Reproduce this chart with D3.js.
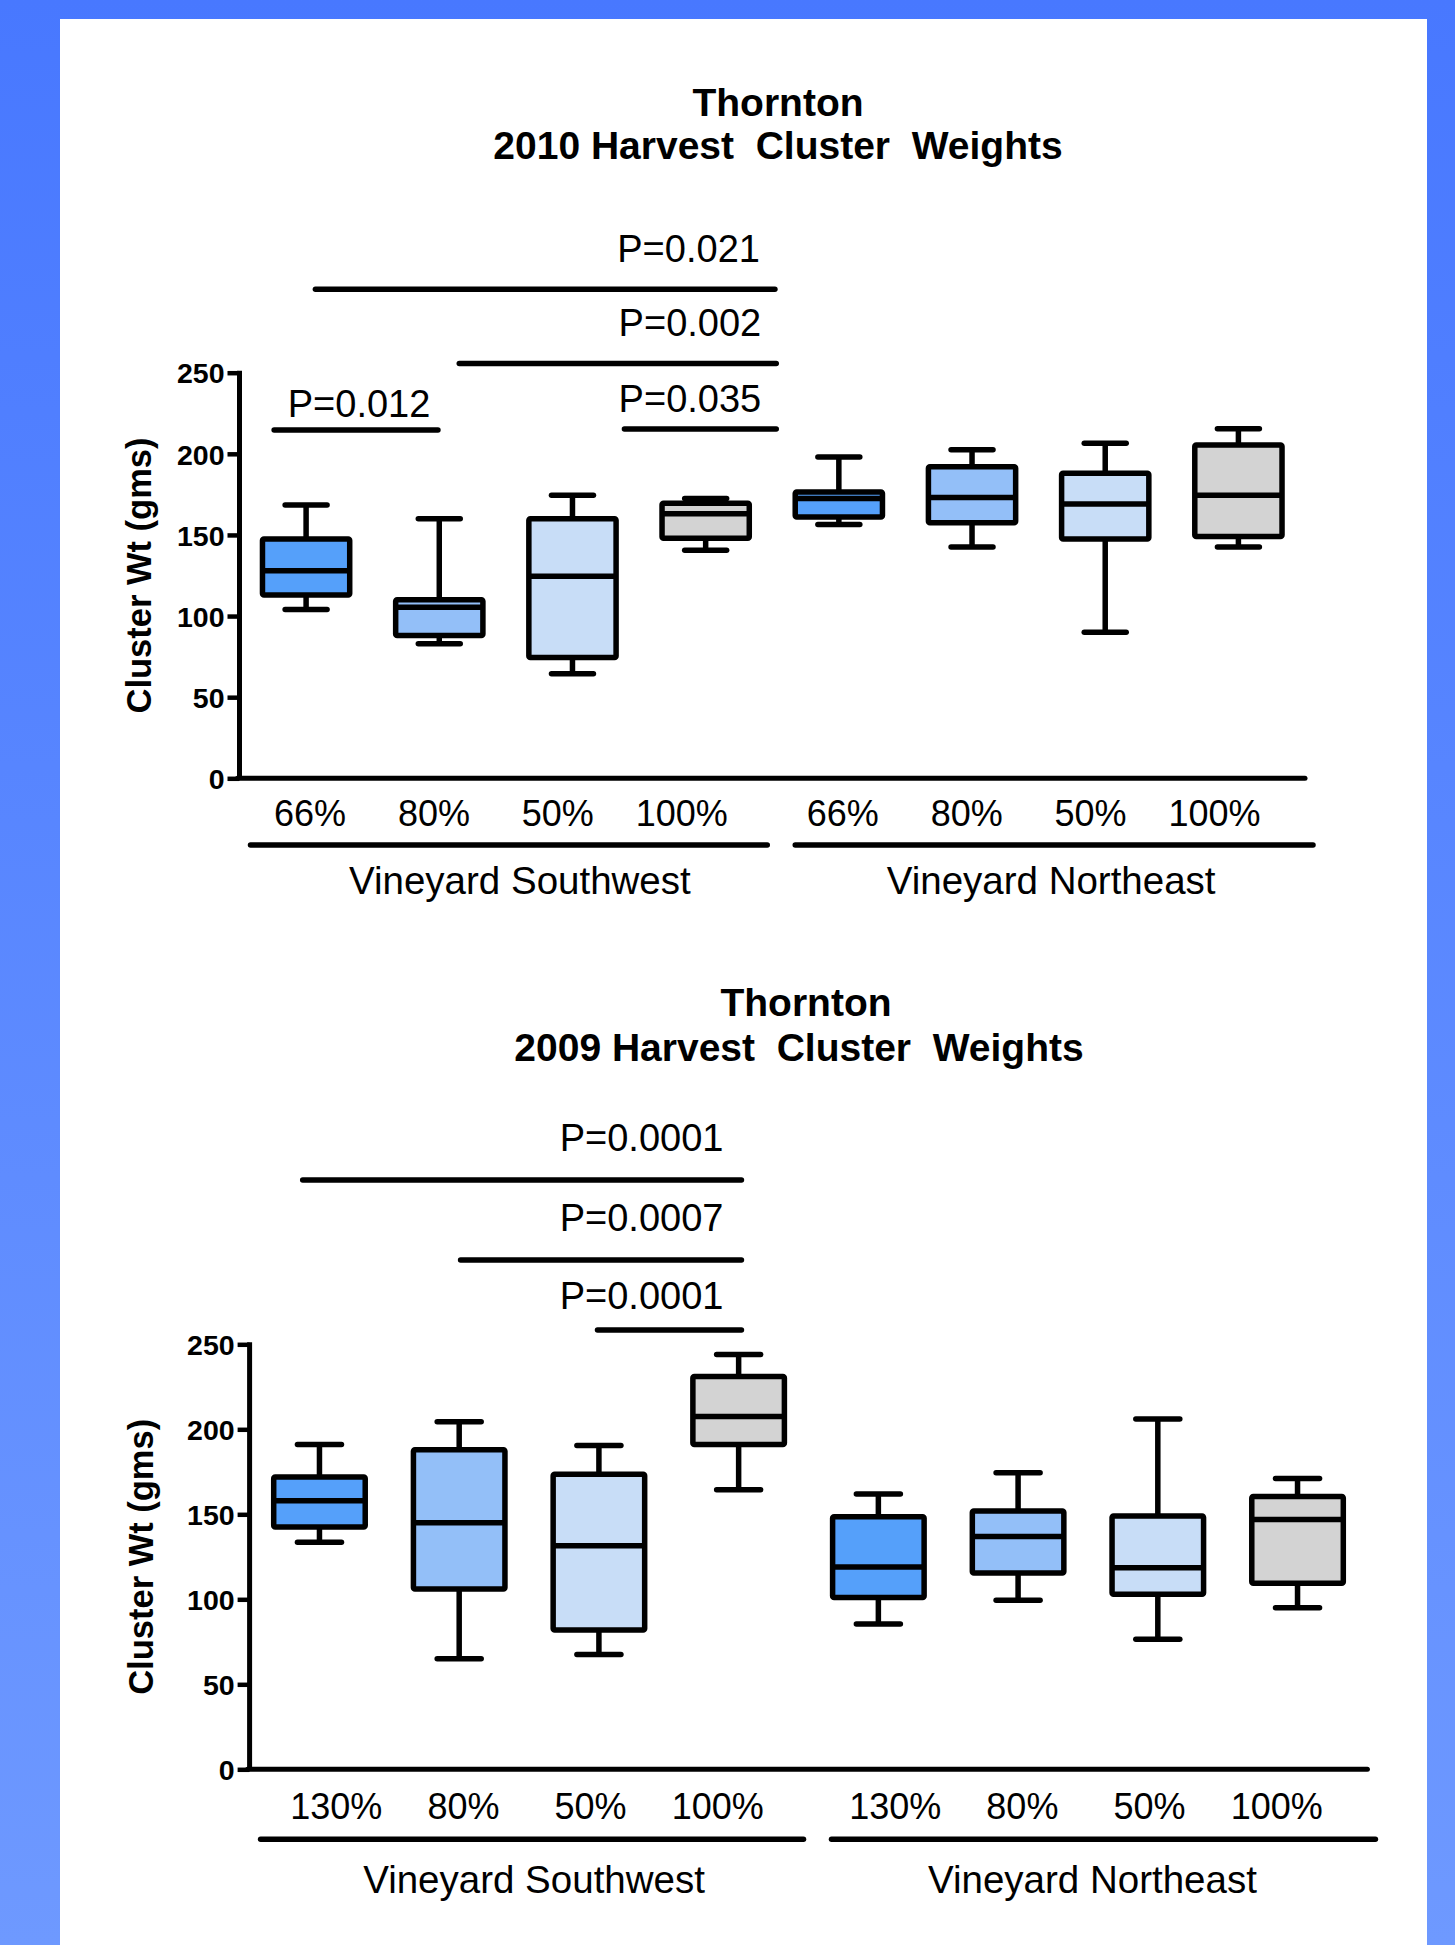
<!DOCTYPE html>
<html>
<head>
<meta charset="utf-8">
<script src="https://cdn.jsdelivr.net/npm/d3@7"></script>
<style>
  html, body { margin: 0; padding: 0; background: #5a88ff; }
  svg { display: block; }
  text { font-family: "Liberation Sans", Arial, "DejaVu Sans", sans-serif; fill: #000; }
</style>
</head>
<body>
<svg id="chart" width="1455" height="1945"></svg>
<script>
// ---------------- DATA ----------------
const vineyards = ["Vineyard Southwest", "Vineyard Northeast"];
const treatments2010 = ["66%", "80%", "50%", "100%"];
const treatments2009 = ["130%", "80%", "50%", "100%"];
const yTicks = [0, 50, 100, 150, 200, 250];

// box stats: [min, q1, median, q3, max] (grams), order: SW x4 then NE x4
const stats2010 = [
  [104, 113, 128, 147.5, 168.5],
  [83, 88, 105.5, 110, 160],
  [64.5, 74.5, 124.5, 160, 174.5],
  [140.5, 148, 163, 169.5, 172.5],
  [156.5, 161, 172.5, 176.5, 198],
  [142.5, 157.5, 173, 192, 202.5],
  [90, 147.5, 169, 188, 206.5],
  [142.5, 149, 174.5, 205.5, 215.5]
];
const stats2009 = [
  [133.5, 142.5, 158, 172, 191],
  [65, 106, 145, 188, 204.5],
  [67.5, 82, 131.5, 173.5, 190.5],
  [164.5, 191, 207.5, 231, 244],
  [85.5, 101, 119, 148.5, 162],
  [99.5, 115.5, 137, 152, 174.5],
  [76.5, 103, 118.5, 149, 206],
  [95, 109.5, 147, 160.5, 171]
];
const fills = ["#55a0fa", "#93bff8", "#c8ddf7", "#d3d3d3"];

// significance bars: span in category-index units, y in gram units
const comps2010 = [
  { label: "P=0.021", from: 0.07, to: 3.52, y: 301.5, ty: 318.5, anchor: "end" },
  { label: "P=0.002", from: 1.15, to: 3.53, y: 255.7, ty: 272.6, anchor: "end" },
  { label: "P=0.035", from: 2.39, to: 3.53, y: 215.3, ty: 226, anchor: "end" },
  { label: "P=0.012", from: -0.24, to: 0.99, y: 214.7, ty: 223, anchor: "middle" }
];
const comps2009 = [
  { label: "P=0.0001", from: -0.12, to: 3.02, y: 346.6, ty: 363.7, anchor: "end" },
  { label: "P=0.0007", from: 1.01, to: 3.02, y: 299.6, ty: 316.9, anchor: "end" },
  { label: "P=0.0001", from: 1.99, to: 3.02, y: 258.4, ty: 270.5, anchor: "end" }
];

// ---------------- DRAW ----------------
const svg = d3.select("#chart");
const defs = svg.append("defs");
const grad = defs.append("linearGradient").attr("id", "bg").attr("x1", 0).attr("y1", 0).attr("x2", 0).attr("y2", 1);
grad.append("stop").attr("offset", "0%").attr("stop-color", "#4878ff");
grad.append("stop").attr("offset", "100%").attr("stop-color", "#6e99ff");
svg.append("rect").attr("width", 1455).attr("height", 1945).attr("fill", "url(#bg)");
svg.append("rect").attr("x", 60).attr("y", 19).attr("width", 1367).attr("height", 1945 - 19).attr("fill", "#fff");

const SW = 5.5; // stroke width

function drawChart(cfg) {
  const g = svg.append("g");
  const keys = [];
  vineyards.forEach(v => cfg.treatments.forEach(t => keys.push(v + "|" + t)));

  const x = d3.scaleBand().domain(keys).range([cfg.x0, cfg.x1]).padding(0);
  const idx = d3.scaleLinear().domain([-0.5, keys.length - 0.5]).range([cfg.x0, cfg.x1]);
  const y = d3.scaleLinear().domain([0, 250]).range([cfg.yBottom, cfg.yTop]);
  const bw = x.bandwidth();

  // titles
  g.append("text").attr("x", cfg.titleX).attr("y", cfg.titleY1).attr("text-anchor", "middle")
    .attr("font-size", 39).attr("font-weight", "bold").text("Thornton");
  g.append("text").attr("x", cfg.titleX2).attr("y", cfg.titleY2).attr("text-anchor", "middle")
    .attr("font-size", 39).attr("font-weight", "bold").style("white-space", "pre")
    .text(cfg.title);

  // y axis
  const yAxis = d3.axisLeft(y).tickValues(yTicks).tickSize(12).tickPadding(3).tickSizeOuter(0);
  const ya = g.append("g").attr("transform", `translate(${cfg.x0},0)`).call(yAxis);
  ya.select(".domain").attr("stroke", "#000").attr("stroke-width", 5).attr("d", `M0,${cfg.yTop - 2}V${cfg.yBottom}`);
  ya.selectAll(".tick line").attr("stroke", "#000").attr("stroke-width", 4.5);
  ya.selectAll(".tick text").attr("font-size", 28.5).attr("font-weight", "bold")
    .attr("font-family", '"Liberation Sans", Arial, sans-serif').attr("fill", "#000").attr("dy", "0.36em");

  // x axis line
  g.append("line").attr("x1", cfg.x0 - 2).attr("x2", cfg.x1).attr("y1", cfg.yBottom).attr("y2", cfg.yBottom)
    .attr("stroke", "#000").attr("stroke-width", 5).attr("stroke-linecap", "round");

  // y label
  const ym = (cfg.yTop + cfg.yBottom) / 2;
  g.append("text").attr("transform", `translate(${cfg.ylabX},${ym}) rotate(-90)`)
    .attr("text-anchor", "middle").attr("font-size", 34.5).attr("font-weight", "bold").text("Cluster Wt (gms)");

  // boxes
  const data = cfg.stats.map((s, i) => ({ key: keys[i], s, fill: fills[i % 4] }));
  const bx = g.selectAll("g.box").data(data).join("g").attr("class", "box");
  const boxW = bw * 0.655, capW = bw * 0.315;
  const cx = d => x(d.key) + bw / 2;
  bx.append("line").attr("x1", cx).attr("x2", cx).attr("y1", d => y(d.s[4])).attr("y2", d => y(d.s[0]))
    .attr("stroke", "#000").attr("stroke-width", SW);
  bx.append("line").attr("x1", d => cx(d) - capW / 2).attr("x2", d => cx(d) + capW / 2)
    .attr("y1", d => y(d.s[4])).attr("y2", d => y(d.s[4]))
    .attr("stroke", "#000").attr("stroke-width", SW).attr("stroke-linecap", "round");
  bx.append("line").attr("x1", d => cx(d) - capW / 2).attr("x2", d => cx(d) + capW / 2)
    .attr("y1", d => y(d.s[0])).attr("y2", d => y(d.s[0]))
    .attr("stroke", "#000").attr("stroke-width", SW).attr("stroke-linecap", "round");
  bx.append("rect").attr("x", d => cx(d) - boxW / 2).attr("width", boxW)
    .attr("y", d => y(d.s[3])).attr("height", d => y(d.s[1]) - y(d.s[3]))
    .attr("fill", d => d.fill).attr("stroke", "#000").attr("stroke-width", SW).attr("rx", 1.5);
  bx.append("line").attr("x1", d => cx(d) - boxW / 2).attr("x2", d => cx(d) + boxW / 2)
    .attr("y1", d => y(d.s[2])).attr("y2", d => y(d.s[2]))
    .attr("stroke", "#000").attr("stroke-width", SW);

  // treatment labels
  vineyards.forEach((v, vi) => {
    const vk = keys.slice(vi * 4, vi * 4 + 4);
    const gc = (x(vk[1]) + bw / 2 + x(vk[2]) + bw / 2) / 2;
    g.selectAll(null).data(vk).join("text")
      .attr("x", k => gc + (x(k) + bw / 2 - gc) * cfg.labCompress + cfg.labShift)
      .attr("y", cfg.yBottom + cfg.tickLabOff).attr("text-anchor", "middle").attr("font-size", 36)
      .text(k => k.split("|")[1]);
  });

  // group lines + labels
  const mid = (cfg.x0 + cfg.x1) / 2;
  const groups = [
    { name: vineyards[0], a: cfg.x0 + 11, b: mid - 5, off: cfg.groupLabShift[0] },
    { name: vineyards[1], a: mid + 23, b: cfg.x1 + 8, off: cfg.groupLabShift[1] }
  ];
  g.selectAll(null).data(groups).join("line")
    .attr("x1", d => d.a).attr("x2", d => d.b)
    .attr("y1", cfg.yBottom + cfg.groupLineOff).attr("y2", cfg.yBottom + cfg.groupLineOff)
    .attr("stroke", "#000").attr("stroke-width", 5.5).attr("stroke-linecap", "round");
  g.selectAll(null).data(groups).join("text")
    .attr("x", d => (d.a + d.b) / 2 + d.off).attr("y", cfg.yBottom + cfg.groupLabOff)
    .attr("text-anchor", "middle").attr("font-size", 38.5).text(d => d.name);

  // comparisons
  cfg.comps.forEach(c => {
    const xa = idx(c.from), xb = idx(c.to);
    g.append("line").attr("x1", xa).attr("x2", xb).attr("y1", y(c.y)).attr("y2", y(c.y))
      .attr("stroke", "#000").attr("stroke-width", 5.5).attr("stroke-linecap", "round");
    g.append("text").attr("x", c.anchor === "end" ? xb - cfg.pTextInset : (xa + xb) / 2 + 3)
      .attr("y", y(c.ty)).attr("text-anchor", c.anchor).attr("font-size", 38).text(c.label);
  });
}

drawChart({
  treatments: treatments2010, stats: stats2010, comps: comps2010,
  title: "2010 Harvest  Cluster  Weights",
  x0: 239.5, x1: 1305, yTop: 372.7, yBottom: 778.3,
  titleX: 778, titleX2: 778, titleY1: 116, titleY2: 159.3, ylabX: 151,
  tickLabOff: 47.5, groupLineOff: 66.7, groupLabOff: 115.5, groupLabShift: [11, -3],
  labCompress: 0.93, labShift: -10, pTextInset: 15
});
drawChart({
  treatments: treatments2009, stats: stats2009, comps: comps2009,
  title: "2009 Harvest  Cluster  Weights",
  x0: 249.6, x1: 1367.4, yTop: 1344.3, yBottom: 1769.3,
  titleX: 806, titleX2: 799, titleY1: 1016, titleY2: 1060.5, ylabX: 153,
  tickLabOff: 49.5, groupLineOff: 70, groupLabOff: 124, groupLabShift: [2, -11],
  labCompress: 0.91, labShift: -2, pTextInset: 18
});
</script>
</body>
</html>
